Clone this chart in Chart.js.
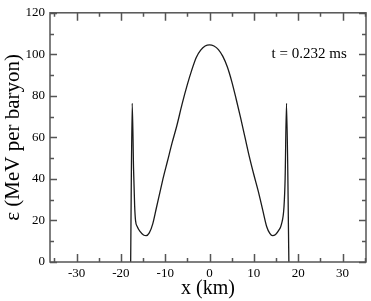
<!DOCTYPE html>
<html><head><meta charset="utf-8">
<script src="https://cdn.jsdelivr.net/npm/chart.js@4/dist/chart.umd.min.js"></script>
<style>html,body{margin:0;padding:0;background:#fff;} #wrap{width:371px;height:301px;}</style>
</head><body><div id="wrap"><canvas id="c" width="371" height="301"></canvas></div>
<script>
// Data
const xValues = [-17.8, -17.45, -17.15, -16.9, -16.7, -16.3, -15.6, -14.9, -14.3, -13.6, -12.8, -12.0, -11.2, -10.4, -9.5, -8.5, -7.4, -6.2, -5.0, -4.0, -3.0, -2.0, -1.0, 0.0,
                 1.0, 2.0, 3.0, 4.0, 5.0, 6.0, 7.0, 8.0, 9.0, 10.0, 11.0, 12.0, 12.9, 13.6, 14.2, 14.9, 15.6, 16.2, 16.8, 17.05, 17.37, 17.9];
const epsValues = [0, 76.4, 45, 27, 20, 17, 14.5, 13, 12.7, 14, 18.5, 26, 33.5, 41, 48.5, 57, 65.5, 76, 85.5, 92.5, 98.5, 102, 104, 104.6,
                 104, 102.3, 99, 94, 87, 78.5, 69.5, 60, 50.5, 42, 34, 25, 17, 13.8, 12.7, 13.3, 15.2, 18, 26.7, 40, 76.4, 0];
const xMajorTicks = [-30, -20, -10, 0, 10, 20, 30];
const xMinorTicks = [-35, -25, -15, -5, 5, 15, 25, 35];
const yMajorTicks = [0, 20, 40, 60, 80, 100, 120];
const yMinorTicks = [10, 30, 50, 70, 90, 110];
const annotationText = 't = 0.232 ms';
const annotationAt = {x: 14, y: 100};
const xTitle = 'x (km)';
const yTitle = 'ε (MeV per baryon)';

const SERIF = '"Liberation Serif", "Times New Roman", serif';

const points = xValues.map((v, i) => ({x: v, y: epsValues[i]}));

const framePlugin = {
  id: 'frame',
  afterDatasetsDraw(chart) {
    const {ctx, chartArea: {left, right, top, bottom}, scales: {x, y}} = chart;
    ctx.save();
    ctx.strokeStyle = '#555';
    ctx.lineWidth = 1.5;
    ctx.beginPath();
    const tick = (arr, len, horiz) => {
      arr.forEach(v => {
        if (horiz) {
          const p = Math.round(x.getPixelForValue(v)) + 0.5;
          ctx.moveTo(p, bottom); ctx.lineTo(p, bottom - len);
          ctx.moveTo(p, top); ctx.lineTo(p, top + len);
        } else {
          const p = Math.round(y.getPixelForValue(v)) + 0.5;
          ctx.moveTo(left, p); ctx.lineTo(left + len, p);
          ctx.moveTo(right, p); ctx.lineTo(right - len, p);
        }
      });
    };
    tick(xMajorTicks, 8, true);
    tick(xMinorTicks, 4, true);
    tick(yMajorTicks, 7, false);
    tick(yMinorTicks, 4, false);
    ctx.stroke();
    ctx.strokeRect(left, top, right - left, bottom - top);
    ctx.fillStyle = '#000';
    ctx.font = '15px ' + SERIF;
    ctx.textAlign = 'left';
    ctx.textBaseline = 'middle';
    ctx.fillText(annotationText, x.getPixelForValue(annotationAt.x), y.getPixelForValue(annotationAt.y));
    ctx.restore();
  }
};

new Chart(document.getElementById('c'), {
  type: 'scatter',
  data: {
    datasets: [{
      data: points,
      showLine: true,
      borderColor: '#1a1a1a',
      borderWidth: 1.3,
      pointRadius: 0,
      cubicInterpolationMode: 'monotone',
      fill: false
    }]
  },
  options: {
    responsive: false,
    animation: false,
    devicePixelRatio: 1,
    layout: {padding: {top: 5, right: 5, left: 0, bottom: 0}},
    plugins: {legend: {display: false}, tooltip: {enabled: false}},
    scales: {
      x: {
        type: 'linear', min: -36, max: 35.3,
        afterFit: s => { s.height = 39; },
        afterBuildTicks: s => { s.ticks = xMajorTicks.map(v => ({value: v})); },
        grid: {display: false, drawTicks: false},
        border: {display: false},
        ticks: {font: {family: SERIF, size: 13}, color: '#000', padding: 4, maxRotation: 0, autoSkip: false},
        title: {display: true, text: xTitle, font: {family: SERIF, size: 20}, color: '#000', padding: {top: 0, bottom: 0}}
      },
      y: {
        type: 'linear', min: 0, max: 120,
        afterFit: s => { s.width = 50; },
        afterBuildTicks: s => { s.ticks = yMajorTicks.map(v => ({value: v})); },
        grid: {display: false, drawTicks: false},
        border: {display: false},
        ticks: {font: {family: SERIF, size: 13}, color: '#000', padding: 5, autoSkip: false},
        title: {display: true, text: yTitle, font: {family: SERIF, size: 21}, color: '#000', padding: {top: 1, bottom: 0}}
      }
    }
  },
  plugins: [framePlugin]
});
</script>
</body></html>
